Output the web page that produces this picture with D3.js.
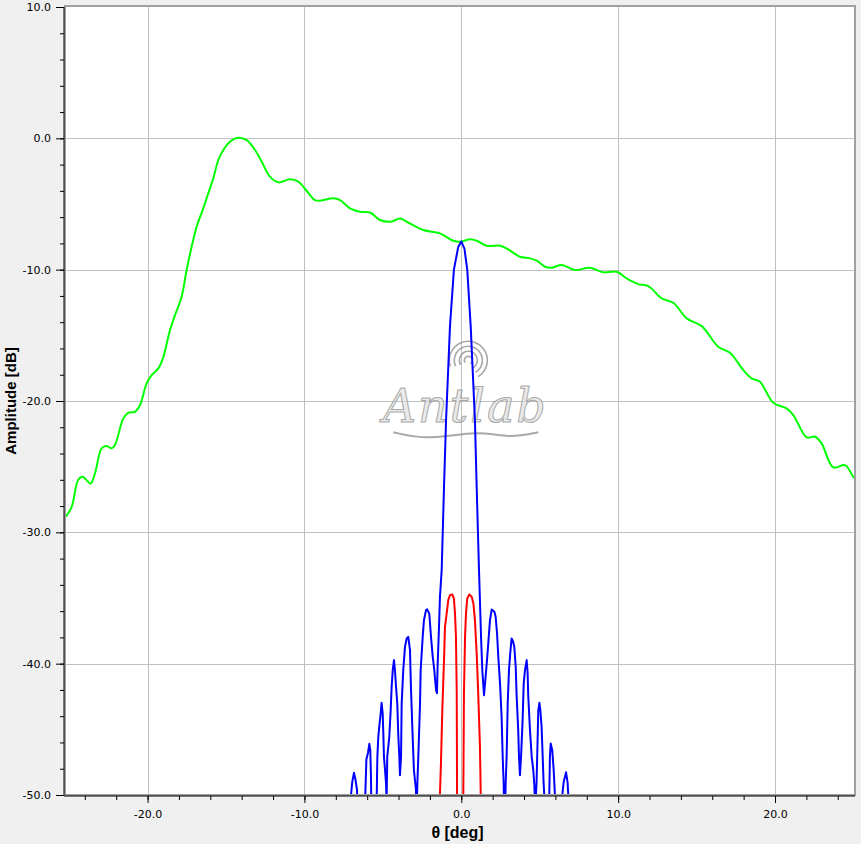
<!DOCTYPE html>
<html><head><meta charset="utf-8">
<script src="https://cdn.jsdelivr.net/npm/d3@7"></script>
<style>html,body{margin:0;padding:0;background:#f0f0f0;} svg{display:block;}</style>
</head><body><svg id="c" width="861" height="844"></svg>
<script>
// ---- data ----
const greenTheta = [-25.2,-24.84,-24.42,-24.14,-23.63,-23.35,-22.93,-22.61,-22.29,-22.08,-21.55,-21.23,-20.8,-20.48,-20.06,-19.74,-19.31,-18.99,-18.57,-18.25,-17.83,-17.51,-17.19,-16.87,-16.45,-16.13,-15.81,-15.49,-15.17,-14.75,-14.22,-13.68,-13.15,-12.72,-12.2,-11.67,-10.92,-10.39,-9.86,-9.33,-9.0,-8.16,-7.73,-7.1,-6.46,-5.82,-5.18,-4.5,-3.9,-3.48,-2.42,-1.36,-0.51,-0.04,0.55,0.98,1.62,2.47,3.0,3.74,4.38,4.81,5.34,5.76,6.4,7.25,8.2,9.05,9.91,10.54,11.28,11.92,12.78,13.52,14.37,15.33,16.38,17.13,17.98,18.51,19.04,19.89,20.74,21.17,22.02,22.55,22.97,23.72,24.46,24.99,25.1];
const greenDb = [-28.8,-28.06,-26.0,-25.77,-26.28,-25.5,-23.6,-23.43,-23.6,-23.36,-21.33,-20.9,-20.82,-20.31,-18.66,-18.03,-17.52,-16.63,-14.6,-13.46,-12.06,-10.03,-8.26,-6.73,-5.33,-4.19,-3.05,-1.65,-0.89,-0.26,0.05,-0.13,-0.89,-1.78,-2.92,-3.35,-3.12,-3.3,-3.99,-4.7,-4.75,-4.57,-4.7,-5.33,-5.59,-5.65,-6.22,-6.35,-6.1,-6.35,-6.98,-7.24,-7.8,-7.87,-7.69,-7.8,-8.18,-8.18,-8.46,-9.02,-9.14,-9.32,-9.78,-9.85,-9.65,-10.03,-9.85,-10.2,-10.16,-10.67,-11.1,-11.25,-12.19,-12.52,-13.71,-14.3,-15.87,-16.33,-17.65,-18.28,-18.54,-20.14,-20.56,-21.07,-22.77,-22.72,-23.23,-25.06,-24.88,-25.77,-25.9];

const blueTheta = [-7.2,-7.03,-6.95,-6.84,-6.75,-6.65,-6.6,-6.4,-6.15,-6.12,-6.05,-5.95,-5.86,-5.8,-5.76,-5.73,-5.55,-5.39,-5.35,-5.29,-5.23,-5.14,-5.08,-5.01,-4.97,-4.93,-4.86,-4.8,-4.76,-4.72,-4.59,-4.5,-4.44,-4.37,-4.29,-4.23,-4.16,-4.08,-4.02,-3.95,-3.91,-3.84,-3.8,-3.7,-3.59,-3.48,-3.38,-3.27,-3.21,-3.1,-3.02,-2.89,-2.86,-2.8,-2.74,-2.63,-2.59,-2.46,-2.38,-2.25,-2.17,-2.04,-1.93,-1.82,-1.72,-1.61,-1.55,-1.51,-1.42,-1.36,-1.25,-1.1,-0.97,-0.72,-0.47,-0.2,0.0,0.2,0.38,0.6,0.87,0.98,1.13,1.26,1.34,1.45,1.55,1.64,1.72,1.83,1.94,2.11,2.19,2.28,2.36,2.47,2.57,2.64,2.7,2.76,2.83,2.89,2.96,3.04,3.12,3.21,3.3,3.38,3.47,3.53,3.63,3.68,3.74,3.81,3.91,3.98,4.06,4.17,4.23,4.27,4.38,4.49,4.59,4.65,4.72,4.8,4.87,4.91,4.98,5.04,5.12,5.19,5.25,5.29,5.45,5.61,5.65,5.7,5.8,5.89,5.97,6.2,6.44,6.53,6.68,6.78,6.82,7.0];
const blueDb = [-56,-50,-49,-48.3,-48.8,-49.6,-52,-58,-52,-50,-47.3,-46.8,-46.1,-46.6,-48.5,-51,-58,-50,-47.1,-45.57,-44.81,-43.8,-42.98,-43.8,-45.32,-47.1,-48.1,-49.1,-50.5,-47.1,-45.57,-43.54,-41.77,-40.5,-39.73,-40.5,-41.77,-43.03,-45.32,-47.1,-48.5,-47.1,-43.03,-40.5,-38.72,-38.08,-37.96,-38.97,-41.77,-45.57,-48.1,-49.6,-52,-49.1,-47.1,-43.03,-40.5,-37.96,-36.69,-35.93,-35.87,-36.2,-37.96,-39.48,-40.5,-42.0,-42.25,-40.2,-37.2,-34.91,-32.88,-26.5,-21.45,-14.3,-10.0,-8.3,-7.85,-8.4,-10.0,-14.3,-21.45,-26.5,-32.88,-37.96,-40.5,-42.4,-41.0,-39.73,-38.46,-36.69,-35.87,-36.05,-36.43,-37.7,-39.48,-41.5,-44.05,-47.1,-49.1,-53,-49.1,-47.1,-43.03,-40.5,-39.22,-38.08,-38.3,-38.72,-40.24,-42.5,-45.07,-47.1,-48.5,-47.1,-44.3,-41.5,-40.5,-39.73,-40.75,-42.5,-45.07,-47.1,-48.1,-49.1,-51,-49.0,-45.57,-43.54,-42.98,-43.54,-44.81,-47.1,-49.1,-50,-58,-50,-47.1,-46.08,-46.6,-48.1,-50,-58,-50,-49.0,-48.27,-49.1,-50,-56];

const redTheta = [-1.45,-1.36,-1.29,-1.21,-1.1,-1.04,-0.93,-0.83,-0.72,-0.57,-0.47,-0.4,-0.34,-0.29,-0.27,-0.05,0.13,0.17,0.24,0.3,0.38,0.51,0.66,0.77,0.87,0.98,1.08,1.19,1.24,1.32];
const redDb = [-55,-49.9,-47.35,-43.54,-39.73,-37.2,-36.18,-35.16,-34.78,-34.73,-35.04,-36.18,-37.96,-42.27,-49.9,-70,-49.9,-42.27,-37.96,-36.18,-35.04,-34.73,-34.9,-35.4,-36.69,-39.2,-42.27,-46.3,-49.9,-55];

const xMajorTicks = [-20, -10, 0, 10, 20];
const yMajorTicks = [-50, -40, -30, -20, -10, 0, 10];
const xMinorTicks = d3.range(-24, 25, 2);
const yMinorTicks = d3.range(-50, 11, 2);
const xTitle = "θ [deg]";
const yTitle = "Amplitude [dB]";

// ---- layout ----
const L = 66, R = 855, T = 7, B = 795;
const svg = d3.select("#c");
const x = d3.scaleLinear().domain([-25.2, 25.1]).range([L, R]);
const y = d3.scaleLinear().domain([-50, 10]).range([B, T]);
const fmt = d => d.toFixed(1);

svg.append("rect").attr("width", 861).attr("height", 844).attr("fill", "#f0f0f0");
svg.append("rect").attr("x", L).attr("y", T).attr("width", R - L).attr("height", B - T).attr("fill", "#ffffff");

// grid
const grid = svg.append("g").attr("stroke", "#c0c0c0").attr("stroke-width", 1).attr("shape-rendering", "crispEdges");
grid.selectAll(".gx").data(xMajorTicks).join("line")
  .attr("x1", d => Math.round(x(d)) + 0.5).attr("x2", d => Math.round(x(d)) + 0.5)
  .attr("y1", T).attr("y2", B);
grid.selectAll(".gy").data(yMajorTicks.filter(v => v > -50 && v < 10)).join("line")
  .attr("y1", d => Math.round(y(d)) + 0.5).attr("y2", d => Math.round(y(d)) + 0.5)
  .attr("x1", L).attr("x2", R);

// watermark
const wm = svg.append("g").attr("opacity", 0.75);
const cx = x(0.45), cy = y(-16.9);
[4, 9, 14, 19].forEach((r, i) => {
  wm.append("path")
    .attr("d", d3.arc()({innerRadius: r, outerRadius: r, startAngle: -2.2 + i * 0.1, endAngle: 2.6}))
    .attr("transform", `translate(${cx},${cy})`)
    .attr("fill", "none").attr("stroke", "#8c8c8c").attr("stroke-width", 1.6);
});
wm.append("text").attr("x", cx - 3).attr("y", cy + 62).attr("text-anchor", "middle")
  .attr("font-family", "DejaVu Serif").attr("font-style", "italic").attr("font-size", 46)
  .attr("letter-spacing", "2").attr("fill", "#e4e4e4").attr("stroke", "#8c8c8c").attr("stroke-width", 1)
  .text("Antlab");
wm.append("path")
  .attr("d", d3.line().curve(d3.curveBasis)([[cx-75,cy+72],[cx-40,cy+80],[cx+10,cy+70],[cx+40,cy+78],[cx+70,cy+72]]))
  .attr("fill", "none").attr("stroke", "#8c8c8c").attr("stroke-width", 2);

// clip
svg.append("clipPath").attr("id", "clip").append("rect")
  .attr("x", L).attr("y", T).attr("width", R - L).attr("height", B - T);
const plot = svg.append("g").attr("clip-path", "url(#clip)");

function drawSeries(th, db, color, curve) {
  const pts = th.map((t, i) => [t, db[i]]);
  plot.append("path").datum(pts)
    .attr("fill", "none").attr("stroke", color).attr("stroke-width", 2).attr("stroke-linejoin", "round")
    .attr("d", d3.line().x(d => x(d[0])).y(d => y(d[1])).curve(curve));
}
drawSeries(greenTheta, greenDb, "#00ff00", d3.curveCatmullRom.alpha(0.5));
drawSeries(blueTheta, blueDb, "#0000ff", d3.curveLinear);
drawSeries(redTheta, redDb, "#ff0000", d3.curveLinear);

// frame
svg.append("rect").attr("x", L - 1).attr("y", T - 1).attr("width", R - L + 1).attr("height", B - T + 1)
  .attr("fill", "none").attr("stroke", "#a0a0a0").attr("stroke-width", 2);

// axes
const tickFont = g => g.selectAll("text").attr("font-family", "DejaVu Sans").attr("font-size", 11).attr("fill", "#000");
const yAxisX = 64;
svg.append("g").attr("transform", `translate(${yAxisX},0)`)
  .call(d3.axisLeft(y).tickValues(yMinorTicks).tickSize(4).tickFormat(""))
  .call(g => g.select(".domain").remove());
svg.append("g").attr("transform", `translate(${yAxisX},0)`)
  .call(d3.axisLeft(y).tickValues(yMajorTicks).tickSize(8).tickPadding(5).tickFormat(fmt))
  .call(g => g.select(".domain").attr("d", `M0,${T}V${B}`))
  .call(tickFont);

const xAxisY = 796;
svg.append("g").attr("transform", `translate(0,${xAxisY})`)
  .call(d3.axisBottom(x).tickValues(xMinorTicks).tickSize(4).tickFormat(""))
  .call(g => g.select(".domain").remove());
svg.append("g").attr("transform", `translate(0,${xAxisY})`)
  .call(d3.axisBottom(x).tickValues(xMajorTicks).tickSize(7).tickPadding(7).tickFormat(fmt))
  .call(g => g.select(".domain").attr("d", `M${L - 2},0H${R}`))
  .call(tickFont);

// titles
svg.append("text").attr("x", (L + R) / 2 - 3).attr("y", 838).attr("text-anchor", "middle")
  .attr("font-family", "Liberation Sans").attr("font-weight", "bold").attr("font-size", 16).attr("fill", "#000")
  .text(xTitle);
svg.append("text").attr("transform", `translate(16,${(T + B) / 2}) rotate(-90)`).attr("text-anchor", "middle")
  .attr("font-family", "Liberation Sans").attr("font-weight", "bold").attr("font-size", 15).attr("fill", "#000")
  .text(yTitle);
</script></body></html>
